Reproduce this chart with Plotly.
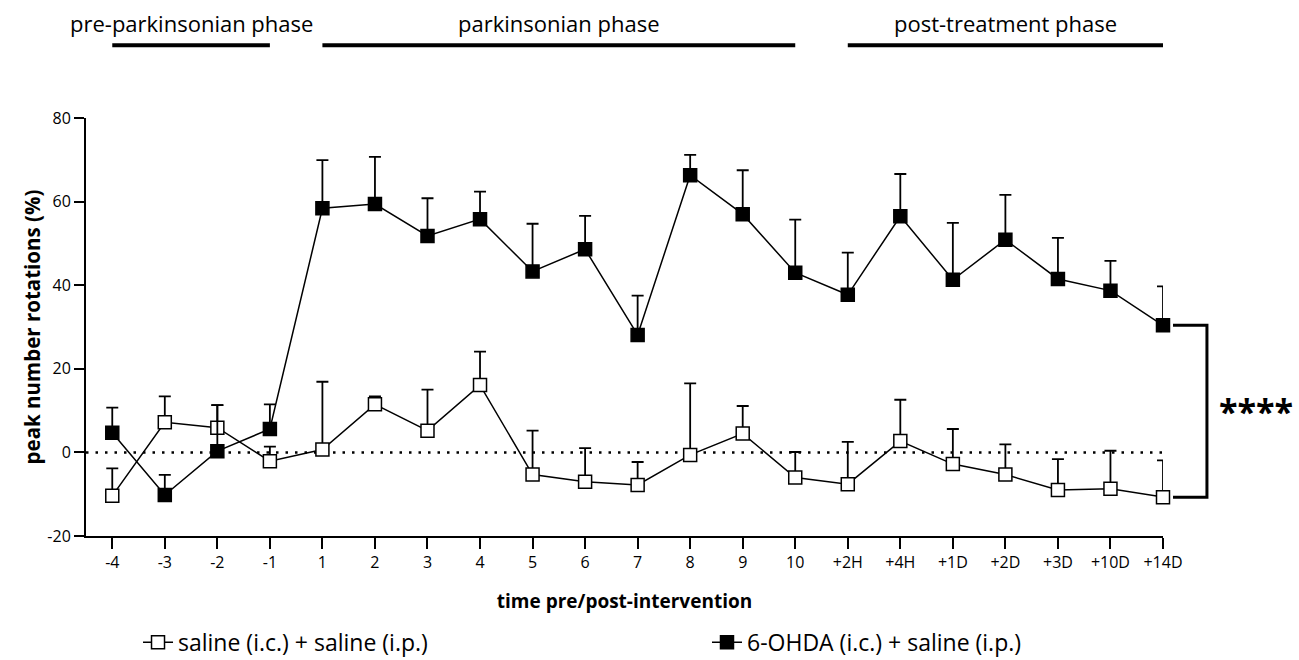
import plotly.graph_objects as go

categories = ["-4", "-3", "-2", "-1", "1", "2", "3", "4", "5", "6", "7", "8", "9", "10",
              "+2H", "+4H", "+1D", "+2D", "+3D", "+10D", "+14D"]

saline_mean = [-10.4, 7.2, 5.9, -2.1, 0.7, 11.5, 5.2, 16.1, -5.3, -7.0, -7.8, -0.6, 4.5, -6.0,
               -7.6, 2.7, -2.8, -5.3, -9.0, -8.7, -10.7]
saline_err = [6.6, 6.2, 5.4, 3.5, 16.2, 1.9, 9.8, 8.0, 10.5, 8.0, 5.5, 17.1, 6.6, 6.1,
              10.1, 9.9, 8.4, 7.2, 7.4, 9.1, 8.8]

ohda_mean = [4.7, -10.2, 0.3, 5.6, 58.4, 59.4, 51.8, 55.8, 43.3, 48.6, 28.1, 66.3, 57.0, 43.0,
             37.7, 56.5, 41.3, 50.9, 41.5, 38.7, 30.4]
ohda_err = [6.0, 4.8, 11.0, 5.9, 11.5, 11.3, 9.0, 6.6, 11.4, 8.0, 9.4, 4.9, 10.5, 12.7,
            10.1, 10.1, 13.6, 10.7, 9.8, 7.1, 9.3]

series_names = ["saline (i.c.) + saline (i.p.)", "6-OHDA (i.c.) + saline (i.p.)"]

phase_labels = ["pre-parkinsonian phase", "parkinsonian phase", "post-treatment phase"]
phase_start = ["-4", "1", "+2H"]
phase_end = ["-1", "10", "+14D"]

y_ticks = [-20, 0, 20, 40, 60, 80]
y_ticktext = [str(v) for v in y_ticks]
significance = "****"

FONT = "Open Sans"

fig = go.Figure()

fig.add_trace(go.Scatter(
    x=categories, y=saline_mean, name=series_names[0], mode="lines+markers",
    line=dict(color="black", width=1.5), cliponaxis=False, legend="legend",
    marker=dict(symbol="square", size=13, color="white", line=dict(color="black", width=1.5)),
    error_y=dict(type="data", symmetric=False, array=saline_err,
                 arrayminus=[0] * len(saline_err), color="black", thickness=1.8, width=6),
))
fig.add_trace(go.Scatter(
    x=categories, y=ohda_mean, name=series_names[1], mode="lines+markers",
    line=dict(color="black", width=1.5), cliponaxis=False, legend="legend2",
    marker=dict(symbol="square", size=13, color="black", line=dict(color="black", width=1.5)),
    error_y=dict(type="data", symmetric=False, array=ohda_err,
                 arrayminus=[0] * len(ohda_err), color="black", thickness=1.8, width=6),
))

# dotted zero line
fig.add_shape(type="line", xref="x", yref="y", x0=-0.5, x1=len(categories) - 1, y0=0, y1=0,
              line=dict(color="black", width=2.5, dash="2.5px,7px"), layer="below")

# phase bars + labels
for lab, s, e in zip(phase_labels, phase_start, phase_end):
    i0 = categories.index(s)
    i1 = categories.index(e)
    fig.add_shape(type="line", xref="x", yref="paper", x0=i0, x1=i1, y0=1.174, y1=1.174,
                  line=dict(color="black", width=4))
    fig.add_annotation(xref="x", yref="paper", x=(i0 + i1) / 2, y=1.227, text=lab,
                       showarrow=False, font=dict(family=FONT, size=22, color="black"),
                       xanchor="center", yanchor="middle")

# significance bracket
y_top = ohda_mean[-1]
y_bot = saline_mean[-1]
fig.add_shape(type="path", xref="paper", yref="y",
              path=f"M 1.0093,{y_top} L 1.0408,{y_top} L 1.0408,{y_bot} L 1.0093,{y_bot}",
              line=dict(color="black", width=3))
fig.add_annotation(xref="paper", yref="y", x=1.0505, y=(y_top + y_bot) / 2, text=f"<b>{significance}</b>",
                   showarrow=False, xanchor="left", yanchor="middle",
                   font=dict(family=FONT, size=34, color="black"))

legend_common = dict(orientation="h", xanchor="left", yref="container", y=0.027, yanchor="middle",
                     font=dict(family=FONT, size=23, color="black"),
                     itemwidth=30, bgcolor="rgba(0,0,0,0)")

fig.update_layout(
    width=1299, height=660,
    margin=dict(l=86, r=136, t=118, b=124),
    paper_bgcolor="white", plot_bgcolor="white",
    font=dict(family=FONT, color="black"),
    showlegend=True,
    legend=dict(x=0.0483, **legend_common),
    legend2=dict(x=0.5766, **legend_common),
    xaxis=dict(type="category", range=[-0.5, len(categories) - 1],
               showline=True, linecolor="black", linewidth=2, mirror=False,
               ticks="outside", ticklen=11, tickwidth=1.8, tickcolor="black",
               tickfont=dict(family=FONT, size=16, color="black"),
               showgrid=False, zeroline=False,
               title=dict(text="<b>time pre/post-intervention</b>", standoff=22,
                          font=dict(family=FONT, size=19, color="black"))),
    yaxis=dict(range=[-20, 80], tickvals=y_ticks, ticktext=y_ticktext,
               showline=True, linecolor="black", linewidth=2,
               ticks="outside", ticklen=10, tickwidth=1.8, tickcolor="black",
               tickfont=dict(family=FONT, size=16, color="black"),
               showgrid=False, zeroline=False,
               title=dict(text="<b>peak number rotations (%)</b>", standoff=1,
                          font=dict(family=FONT, size=20.5, color="black"))),
)

fig.write_html("out.html")
